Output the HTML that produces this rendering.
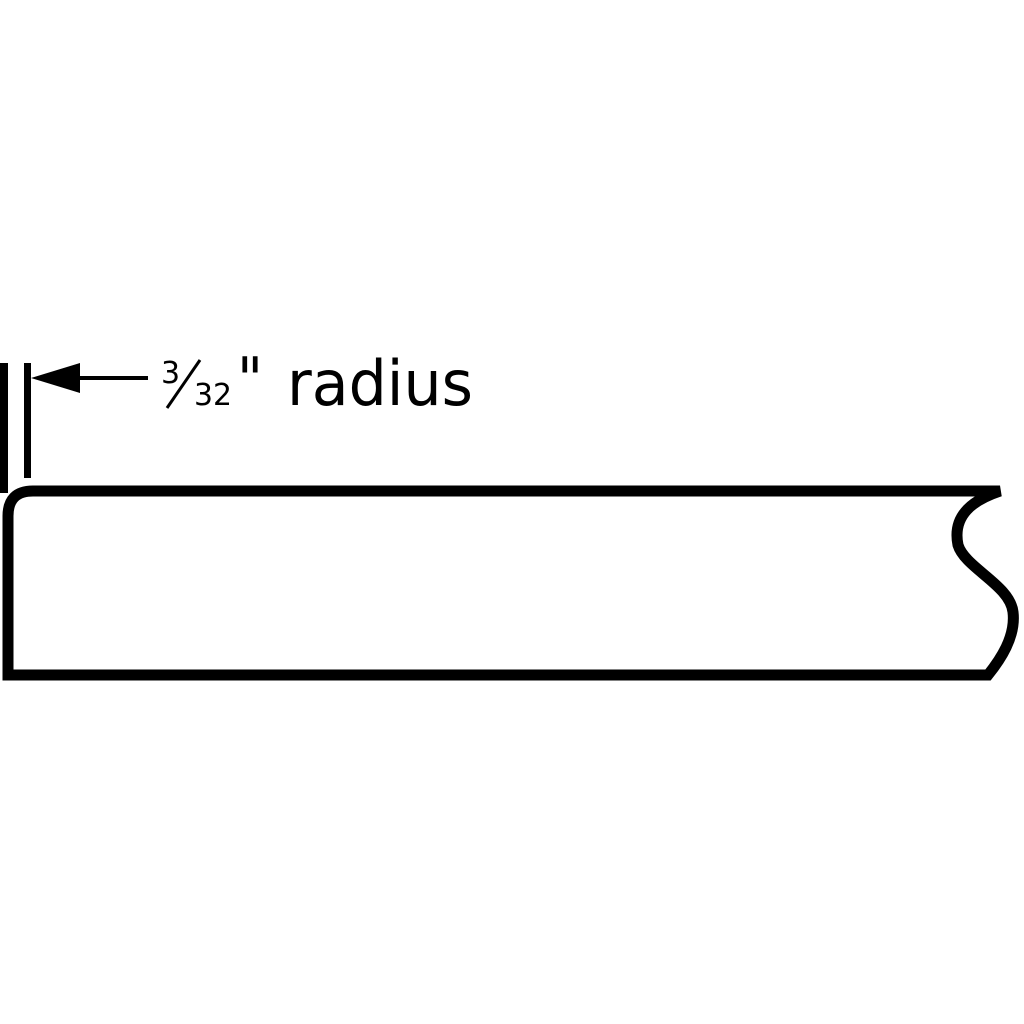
<!DOCTYPE html>
<html><head><style>html,body{margin:0;padding:0;background:#fff}svg{display:block}</style></head>
<body>
<svg width="1024" height="1024" viewBox="0 0 1024 1024" xmlns="http://www.w3.org/2000/svg">
<rect width="1024" height="1024" fill="#fff"/>
<line x1="4" y1="363" x2="4" y2="493" stroke="#000" stroke-width="8"/>
<line x1="27.5" y1="363" x2="27.5" y2="478" stroke="#000" stroke-width="7"/>
<polygon points="31,378 80,363 80,393" fill="#000"/>
<line x1="78" y1="378" x2="148" y2="378" stroke="#000" stroke-width="4"/>
<path d="M8,675 L8,516 Q8,491 33,491 L1000,491 C973,500 952,515 958,545 C965,568 1010,585 1013,612 C1016,637 1000,660 988,675 Z" fill="none" stroke="#000" stroke-width="11" stroke-linejoin="miter"/>
<g font-family="'DejaVu Sans','Liberation Sans',sans-serif" fill="#000">
<text x="161" y="383" font-size="30">3</text>
<line x1="167" y1="408" x2="200" y2="360" stroke="#000" stroke-width="3"/>
<text x="194" y="405" font-size="30" textLength="38" lengthAdjust="spacingAndGlyphs">32</text>
<text x="237" y="400" font-size="60" textLength="26" lengthAdjust="spacingAndGlyphs">"</text>
<text x="287" y="405" font-size="62" textLength="186" lengthAdjust="spacingAndGlyphs">radius</text>
</g>
</svg>
</body></html>
